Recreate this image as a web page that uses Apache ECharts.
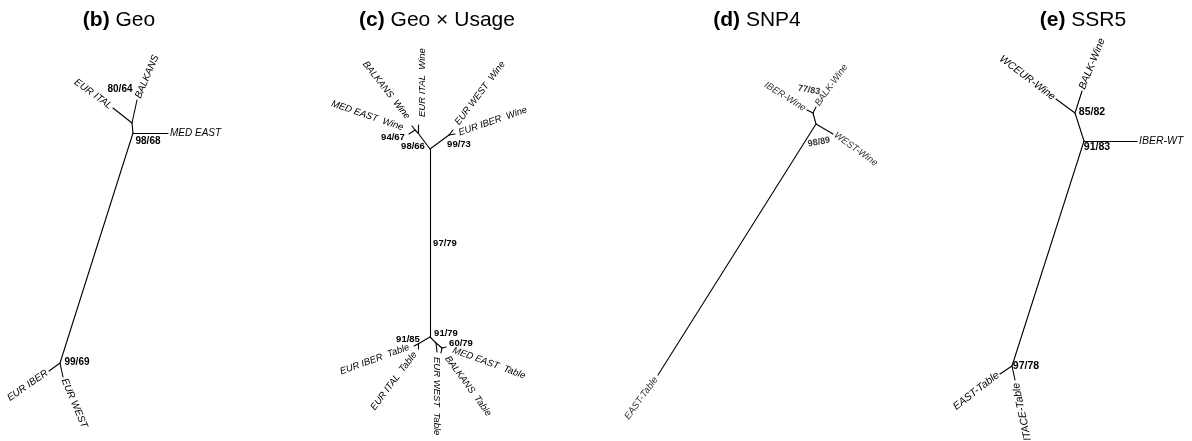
<!DOCTYPE html>
<html><head><meta charset="utf-8">
<script src="https://cdn.jsdelivr.net/npm/echarts@6/dist/echarts.min.js"></script>
<style>html,body{margin:0;padding:0;background:#fff}#c{width:1192px;height:441px}</style>
</head><body><div id="c"></div><script>
// ---------- DATA ----------
const panelTitles = [['(b)', 'Geo'], ['(c)', 'Geo × Usage'], ['(d)', 'SNP4'], ['(e)', 'SSR5']];

// (b) Geo
const geoNodes = {A:[133,133], B:[132,123], ital:[113,108], balk:[137,100], med:[168,133], C:[60,363], iber:[49,371], west:[63,377]};
const geoEdges = [['A','B'],['B','ital'],['B','balk'],['A','med'],['A','C'],['C','iber'],['C','west']];
const geoTips = [['ital','EUR ITAL'],['balk','BALKANS'],['med','MED EAST'],['iber','EUR IBER'],['west','EUR WEST']];
const geoSupport = [['B','80/64'],['A','98/68'],['C','99/69']];

// (c) Geo x Usage
const guNodes = {T:[430,149], M:[430,238], U:[430,337], L1:[418,133], L2:[415,130], italW:[418,125], medW:[409,134], balkW:[412,126],
  R:[449,135], westW:[453,130], iberW:[455,134], LL:[418,344], iberT:[414,346], italT:[418,349], UR:[436,343], westT:[437,352],
  N60:[442,348], balkT:[441,353], medT:[446,347]};
const guEdges = [['T','M'],['M','U'],['T','L1'],['L1','italW'],['L1','L2'],['L2','medW'],['L2','balkW'],['T','R'],['R','westW'],['R','iberW'],
  ['U','LL'],['LL','iberT'],['LL','italT'],['U','UR'],['UR','westT'],['UR','N60'],['N60','balkT'],['N60','medT']];
const guTips = [['italW','EUR ITAL  Wine'],['balkW','BALKANS  Wine'],['medW','MED EAST  Wine'],['westW','EUR WEST  Wine'],['iberW','EUR IBER  Wine'],
  ['iberT','EUR IBER  Table'],['italT','EUR ITAL  Table'],['westT','EUR WEST  Table'],['balkT','BALKANS  Table'],['medT','MED EAST  Table']];
const guSupport = [['L2','94/67'],['L1','98/66'],['R','99/73'],['M','97/79'],['LL','91/85'],['UR','91/79'],['N60','60/79']];

// (d) SNP4
const snpNodes = {P:[813,113], Q:[816,124], iber:[807,110], balk:[816,107], west:[833,134], east:[658,375]};
const snpEdges = [['P','Q'],['P','iber'],['P','balk'],['Q','west'],['Q','east']];
const snpTips = [['iber','IBER-Wine'],['balk','BALK-Wine'],['west','WEST-Wine'],['east','EAST-Table']];
const snpSupport = [['P','77/83'],['Q','98/89']];

// (e) SSR5
const ssrNodes = {E1:[1075,113], E2:[1084,141], wceur:[1056,99], balk:[1082,91], iber:[1137,141], E3:[1012,366], east:[1000,374], itace:[1015,380]};
const ssrEdges = [['E1','E2'],['E1','wceur'],['E1','balk'],['E2','iber'],['E2','E3'],['E3','east'],['E3','itace']];
const ssrTips = [['wceur','WCEUR-Wine'],['balk','BALK-Wine'],['iber','IBER-WT'],['east','EAST-Table'],['itace','ITACE-Table']];
const ssrSupport = [['E1','85/82'],['E2','91/83'],['E3','97/78']];

// ---------- LAYOUT / STYLE ----------
const FONT = '"Liberation Sans", Arial, Helvetica, sans-serif';
const spans = [[0,298],[298,596],[596,894],[894,1192]];
const titleCenters = [[119,20],[437,20],[757,20],[1083,20]];
// tip label: [angle, align, dx, dy]
const tipLayout = [
  {ital:[-36,'right',-2,-1], balk:[67,'left',1,-2], med:[0,'left',2,0], iber:[35,'right',-2,1], west:[-67,'left',1,2]},
  {italW:[90,'left',4,-8], balkW:[-52,'right',-4,-8], medW:[-19,'right',-6,-6], westW:[53,'left',4,-6], iberW:[19,'left',4,-1],
   iberT:[20,'right',-5,1], italT:[53,'right',-3,4], westT:[-90,'left',0,5], balkT:[-54,'left',6,4], medT:[-20,'left',7,3]},
  {iber:[-32,'right',-2,-1], balk:[54,'left',1,-2], west:[-36,'left',2,0], east:[54,'right',-2,3]},
  {wceur:[-37,'right',-2,-1], balk:[68,'left',0,-2], iber:[0,'left',2,0], east:[38,'right',-2,0], itace:[102,'right',1,3]}
];
// support label: [dx, dy, angle]
const supLayout = [
  {B:[-12,-34,0], A:[15,8,0], C:[17,-1,0]},
  {L2:[-22,7,0], L1:[-5,13,0], R:[10,9,0], M:[15,5,0], LL:[-10,-5,0], UR:[10,-10,0], N60:[19,-5,0]},
  {P:[-4,-23,-10], Q:[3,18,10]},
  {E1:[17,-1,0], E2:[13,6,0], E3:[14,0,0]}
];
const tipStyle = [{size:10, fill:'#000'},{size:9.5, fill:'#000'},{size:9.5, fill:'#333'},{size:10.5, fill:'#000'}];
const supStyle = [{size:10, fill:'#000'},{size:9.5, fill:'#000'},{size:9, fill:'#333'},{size:10.5, fill:'#000'}];

const panels = [
  {nodes:geoNodes, edges:geoEdges, tips:geoTips, sup:geoSupport},
  {nodes:guNodes, edges:guEdges, tips:guTips, sup:guSupport},
  {nodes:snpNodes, edges:snpEdges, tips:snpTips, sup:snpSupport},
  {nodes:ssrNodes, edges:ssrEdges, tips:ssrTips, sup:ssrSupport}
];

const grids = [], xAxes = [], yAxes = [], series = [];
panels.forEach((p, gi) => {
  grids.push({left: spans[gi][0], top: 0, width: spans[gi][1]-spans[gi][0], height: 441, show: false});
  xAxes.push({type:'value', gridIndex: gi, min: spans[gi][0], max: spans[gi][1], show: false});
  yAxes.push({type:'value', gridIndex: gi, min: 0, max: 441, inverse: true, show: false});
  series.push({
    type:'lines', coordinateSystem:'cartesian2d', xAxisIndex: gi, yAxisIndex: gi, silent: true, polyline: false,
    lineStyle: {color:'#000', width: 1.1, opacity: 1, cap: 'round'},
    data: p.edges.map(([a,b]) => ({coords: [p.nodes[a], p.nodes[b]]}))
  });
  const items = [];
  const tc = titleCenters[gi];
  items.push({x: tc[0], y: tc[1], text: '{b|' + panelTitles[gi][0] + '} ' + panelTitles[gi][1], angle: 0, align: 'center',
    size: 21, weight: 'normal', italic: false, fill: '#000', rich: {b: {fontWeight: 'bold', fontSize: 21, fontFamily: FONT, fill: '#000'}}});
  p.tips.forEach(([id, txt]) => {
    const L = tipLayout[gi][id], n = p.nodes[id];
    items.push({x: n[0] + L[2], y: n[1] + L[3], text: txt, angle: L[0], align: L[1], size: tipStyle[gi].size, weight: 'normal', italic: true, fill: tipStyle[gi].fill});
  });
  p.sup.forEach(([id, txt]) => {
    const L = supLayout[gi][id], n = p.nodes[id];
    items.push({x: n[0] + L[0], y: n[1] + L[1], text: txt, angle: L[2], align: 'center', size: supStyle[gi].size, weight: 'bold', italic: false, fill: supStyle[gi].fill});
  });
  series.push({
    type:'custom', xAxisIndex: gi, yAxisIndex: gi, silent: true, clip: false,
    encode: {x: 0, y: 1},
    data: items.map((t, i) => [t.x, t.y, i]),
    renderItem: (params, api) => {
      const t = items[api.value(2)];
      const pt = api.coord([api.value(0), api.value(1)]);
      return {type: 'text', x: pt[0], y: pt[1], rotation: t.angle * Math.PI / 180,
        style: {text: t.text, fontSize: t.size, fontFamily: FONT, fontWeight: t.weight, fontStyle: t.italic ? 'italic' : 'normal',
          fill: t.fill, align: t.align, verticalAlign: 'middle', rich: t.rich}};
    }
  });
});

const chart = echarts.init(document.getElementById('c'), null, {renderer: 'canvas'});
chart.setOption({animation: false, backgroundColor: '#fff', grid: grids, xAxis: xAxes, yAxis: yAxes, series: series});
</script></body></html>
